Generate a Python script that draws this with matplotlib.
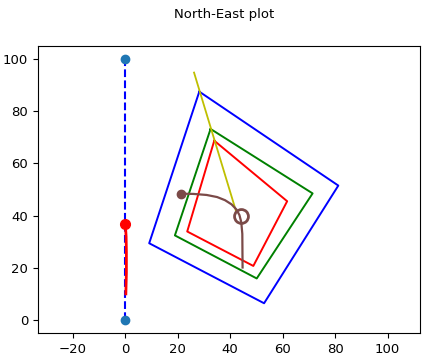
# North-East plot: quadrados rotacionados e trajetórias
import matplotlib.pyplot as plt

# Dados
north_x = [0, 0]
north_y = [0, 100]

track_x = [0.2, 0.4, 0.4, 0.3, 0.0]
track_y = [10, 18, 26, 32, 36.8]

blue_x = [28.2, 81.2, 52.9, 9.1, 28.2]
blue_y = [87.5, 51.5, 6.4, 29.4, 87.5]
green_x = [32.5, 71.4, 50.1, 18.9, 32.5]
green_y = [73.2, 48.5, 15.9, 32.4, 73.2]
red_x = [33.9, 61.7, 48.8, 23.6, 33.9]
red_y = [68.7, 45.5, 20.7, 33.9, 68.7]

yellow_x = [26.2, 42.2]
yellow_y = [94.8, 41.7]

curve_x = [21.1, 26, 31, 35, 38, 40.5, 42.3, 43.5, 44.2, 44.6, 44.7]
curve_y = [48.4, 48.3, 47.9, 47.1, 45.9, 44.3, 42.4, 40.2, 37.5, 33, 20.1]
target = (44.1, 39.8)

fig = plt.figure(figsize=(4.22, 3.56), dpi=100)
ax = fig.add_axes([0.090, 0.0646, 0.905, 0.807])

ax.plot(north_x, north_y, 'b--', linewidth=1.5)
ax.plot(north_x, north_y, 'o', color='tab:blue', markersize=6)
ax.plot(track_x, track_y, 'r-', linewidth=2)
ax.plot(track_x[-1], track_y[-1], 'ro', markersize=7)

ax.plot(blue_x, blue_y, 'b-', linewidth=1.4)
ax.plot(green_x, green_y, 'g-', linewidth=1.4)
ax.plot(red_x, red_y, 'r-', linewidth=1.4)
ax.plot(yellow_x, yellow_y, 'y-', linewidth=1.3)

ax.plot(curve_x, curve_y, '-', color='#7b4a48', linewidth=1.6)
ax.plot(curve_x[0], curve_y[0], 'o', color='#7b4a48', markersize=6)
ax.plot(*target, 'o', markerfacecolor='none', markeredgecolor='#7b4a48',
        markersize=10, markeredgewidth=2)

ax.set_xlim(-33.3, 112.3)
ax.set_ylim(-5, 105.1)
ax.tick_params(labelsize=9.5)

fig.text(0.531, 0.96, 'North-East plot', ha='center', va='center', fontsize=9.5)
fig.savefig('out.png', dpi=100)
